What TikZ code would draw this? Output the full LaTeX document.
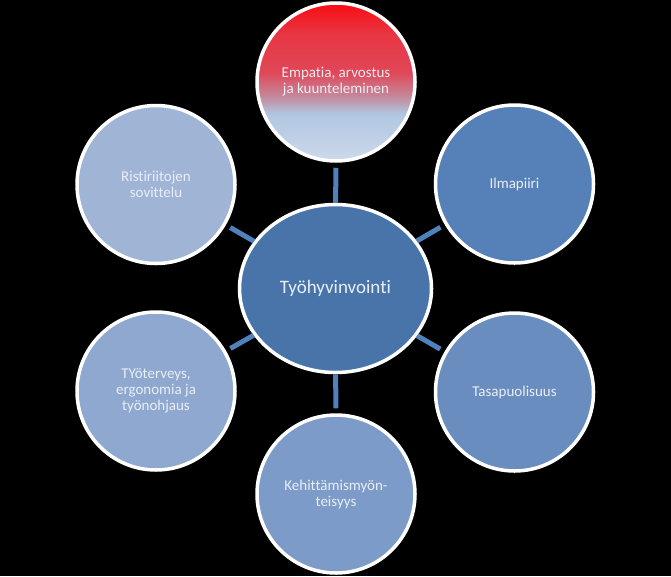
\documentclass[tikz,border=0pt]{standalone}
\usepackage{fontspec}
\setmainfont{Carlito}[Ligatures={NoCommon}]
\usetikzlibrary{shapes.geometric}
\definecolor{conn}{HTML}{4F81BD}
\definecolor{txt}{HTML}{E8EEF6}
\definecolor{cC}{HTML}{4874AA}
\definecolor{cTR}{HTML}{5580B8}
\definecolor{cBR}{HTML}{6A8DC0}
\definecolor{cB}{HTML}{7D9BC8}
\definecolor{cBL}{HTML}{8EA8CF}
\definecolor{cTL}{HTML}{A0B4D6}
\definecolor{g1}{HTML}{CCD9EB}
\definecolor{g2}{HTML}{B0C6E1}
\definecolor{g3}{HTML}{C28DA0}
\definecolor{g4}{HTML}{E04858}
\definecolor{g5}{HTML}{E83644}
\definecolor{g6}{HTML}{FA0C12}
\pgfdeclareverticalshading{topgrad}{100bp}{color(0bp)=(g1); color(25bp)=(g1); color(40bp)=(g2); color(45bp)=(g3); color(53bp)=(g4); color(65bp)=(g5); color(75bp)=(g6); color(100bp)=(g6)}
\begin{document}
\begin{tikzpicture}[x=1pt,y=-1pt,
  bub/.style={circle, draw=white, line width=3.5pt, minimum size=158pt, inner sep=0pt, align=center, text=txt, font=\fontsize{15}{16}\selectfont},
  hub/.style={ellipse, draw=white, line width=3.5pt, minimum width=192pt, minimum height=168pt, inner sep=0pt, fill=cC, text=txt, font=\fontsize{19}{22}\selectfont},
  link/.style={draw=conn, line width=5pt, shorten >=5pt}]
\fill[black] (0,0) rectangle (671,576);
\useasboundingbox (0,0) rectangle (671,576);
\node[hub] (c) at (335.5,288.5) {Työhyvinvointi};
\node[bub, shading=topgrad] (t) at (336,82) {Empatia, arvostus\\ja kuunteleminen};
\node[bub, fill=cTR] (tr) at (514.5,184) {Ilmapiiri};
\node[bub, fill=cBR] (br) at (514.5,392) {Tasapuolisuus};
\node[bub, fill=cB] (b) at (336,494) {Kehittämismyön-\\teisyys};
\node[bub, fill=cBL] (bl) at (156,391) {TYöterveys,\\ergonomia ja\\työnohjaus};
\node[bub, fill=cTL] (tl) at (156,184.5) {Ristiriitojen\\sovittelu};
\foreach \n in {t,tr,br,b,bl,tl} \draw[link] (c) -- (\n);
\end{tikzpicture}
\end{document}
